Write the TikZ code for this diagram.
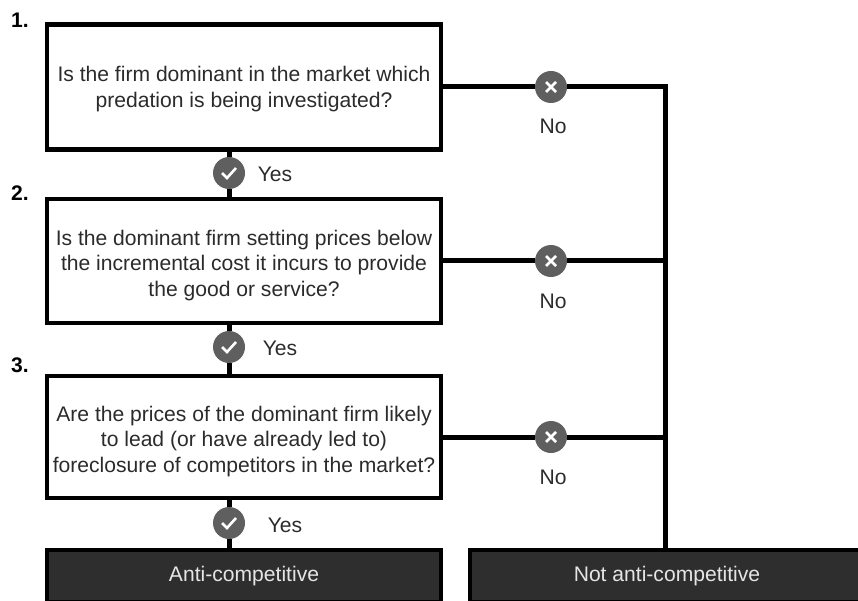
\documentclass[tikz,border=0pt]{standalone}
\usepackage{fontspec}
\setmainfont{Liberation Sans}
\definecolor{markgray}{HTML}{5F5F5F}
\definecolor{textgray}{HTML}{2B2B2B}
\definecolor{endgray}{HTML}{2E2E2E}
\newcommand{\topgap}[1]{\rule{0pt}{#1}}
\begin{document}
\begin{tikzpicture}[x=1pt, y=-1pt,
	question/.style = {draw, line width=4.5pt, fill=white, minimum width=394pt, align=center, inner sep=0pt, text=textgray, font=\fontsize{21.1}{25.5}\selectfont},
	outcome/.style = {draw, line width=4.5pt, fill=endgray, minimum width=394pt, minimum height=52pt, inner sep=0pt, text=white!90!black, font=\fontsize{21.1}{25.5}\selectfont},
	link/.style = {line width=5pt},
	yesmark/.style = {circle, fill=markgray, minimum size=32pt, inner sep=0pt, path picture={
		\draw[white, line width=2.6pt] ([shift={(-7pt,0pt)}]path picture bounding box.center) -- ([shift={(-2pt,-5pt)}]path picture bounding box.center) -- ([shift={(7pt,5pt)}]path picture bounding box.center);}},
	nomark/.style = {circle, fill=markgray, minimum size=32pt, inner sep=0pt, path picture={
		\draw[white, line width=2.6pt] ([shift={(-5pt,-5pt)}]path picture bounding box.center) -- ([shift={(5pt,5pt)}]path picture bounding box.center);
		\draw[white, line width=2.6pt] ([shift={(-5pt,5pt)}]path picture bounding box.center) -- ([shift={(5pt,-5pt)}]path picture bounding box.center);}},
	answer/.style = {text=textgray, inner sep=0pt, font=\fontsize{21.1}{25}\selectfont},
	stepnum/.style = {inner sep=0pt, font=\bfseries\fontsize{21.1}{25}\selectfont}]
	\useasboundingbox (0,0) rectangle (858,601);

	\node[question, minimum height=125pt] (q1) at (244,87) {\topgap{19pt}Is the firm dominant in the market which\\predation is being investigated?};
	\node[question, minimum height=124pt] (q2) at (244,261) {\topgap{24pt}Is the dominant firm setting prices below\\the incremental cost it incurs to provide\\the good or service?};
	\node[question, minimum height=122pt] (q3) at (244,437) {\topgap{24pt}Are the prices of the dominant firm likely\\to lead (or have already led to)\\foreclosure of competitors in the market?};

	\begin{scope}
		\clip (0,0) rectangle (858,601);
		\node[outcome] (anti) at (244,576) {Anti-competitive};
		\node[outcome] (notanti) at (667,576) {Not anti-competitive};
	\end{scope}

	\coordinate (t1) at (665,87);
	\coordinate (t2) at (665,261);
	\coordinate (t3) at (665,437);
	\coordinate (t4) at (665,550);

	\node[stepnum] (n1) at (20,20) {1.};
	\node[stepnum] (n2) at (20,193) {2.};
	\node[stepnum] (n3) at (20,365) {3.};

	\node[yesmark] (y1) at (229,173) {};
	\node[yesmark] (y2) at (229,347) {};
	\node[yesmark] (y3) at (229,523) {};
	\node[nomark] (x1) at (551,87) {};
	\node[nomark] (x2) at (551,261) {};
	\node[nomark] (x3) at (551,437) {};

	\draw[link] (q1.south -| y1) -- (y1);
	\draw[link] (y1) -- (q2.north -| y1);
	\draw[link] (q2.south -| y2) -- (y2);
	\draw[link] (y2) -- (q3.north -| y2);
	\draw[link] (q3.south -| y3) -- (y3);
	\draw[link] (y3) -- (anti.north -| y3);
	\draw[link] (q1.east) -- (x1);
	\draw[link] (x1) -- (t1) -- (t4);
	\draw[link] (q2.east) -- (x2);
	\draw[link] (x2) -- (t2);
	\draw[link] (q3.east) -- (x3);
	\draw[link] (x3) -- (t3);

	\node[answer] (ya1) at (275,174) {Yes};
	\node[answer] (ya2) at (280,348) {Yes};
	\node[answer] (ya3) at (285,525) {Yes};
	\node[answer] (na1) at (553,126) {No};
	\node[answer] (na2) at (553,301) {No};
	\node[answer] (na3) at (553,477) {No};
\end{tikzpicture}
\end{document}
